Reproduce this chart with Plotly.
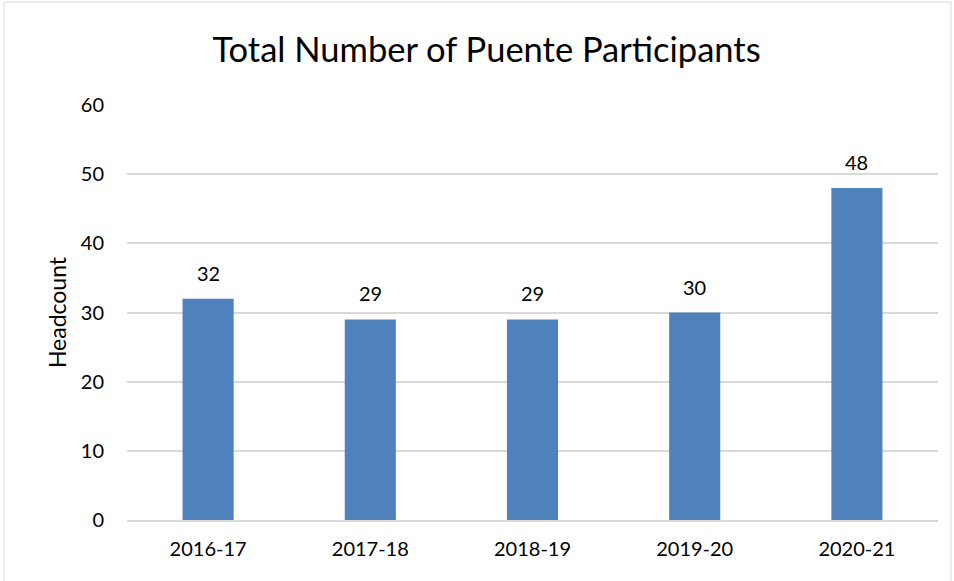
import plotly.graph_objects as go

categories = ["2016-17", "2017-18", "2018-19", "2019-20", "2020-21"]
headcount = [32, 29, 29, 30, 48]
y_ticks = [0, 10, 20, 30, 40, 50, 60]

FONT = "Lato"
W, H = 954, 581
L, R, T, B = 127, 16, 105, 61
pw, ph = W - L - R, H - T - B

fig = go.Figure(go.Bar(
    x=categories, y=headcount,
    marker=dict(color="#4F81BD", line=dict(width=0)),
    width=0.315,
    hoverinfo="x+y",
))

for c, v in zip(categories, headcount):
    fig.add_annotation(x=c, y=v, text=str(v), showarrow=False, yanchor="bottom",
                       yshift=12, font=dict(family=FONT, size=20, color="#000000"))

fig.update_layout(
    width=W, height=H,
    margin=dict(l=L, r=R, t=T, b=B),
    paper_bgcolor="white", plot_bgcolor="white",
    title=dict(text="Total Number of Puente Participants", x=486.5 / W, xanchor="center",
               xref="container",
               y=1 - 50 / H, yanchor="middle",
               font=dict(family=FONT, size=34.5, color="#000000")),
    font=dict(family=FONT, color="#000000"),
    showlegend=False,
    xaxis=dict(showgrid=False, showline=True, linecolor="#D9D9D9", linewidth=1.5,
               ticks="", tickfont=dict(family=FONT, size=20, color="#000000"),
               ticklabelstandoff=10),
    yaxis=dict(range=[0, 60], tickvals=y_ticks, showgrid=True, gridcolor="#D9D9D9",
               gridwidth=1.5, zeroline=False, showline=False, ticks="",
               tickfont=dict(family=FONT, size=20, color="#000000"),
               ticklabelstandoff=22,
               title=dict(text="Headcount", font=dict(family=FONT, size=23, color="#000000"),
                          standoff=7)),
    shapes=[dict(type="rect", xref="paper", yref="paper",
                 x0=(4 - L) / pw, x1=(951 - L) / pw,
                 y0=(B - 578) / ph, y1=(H - B - 2) / ph,
                 line=dict(color="#D9D9D9", width=1), layer="below")],
)
fig.write_html("out.html", config={"displayModeBar": False},
               post_script="document.body.style.margin='0';document.body.style.overflow='hidden';")
